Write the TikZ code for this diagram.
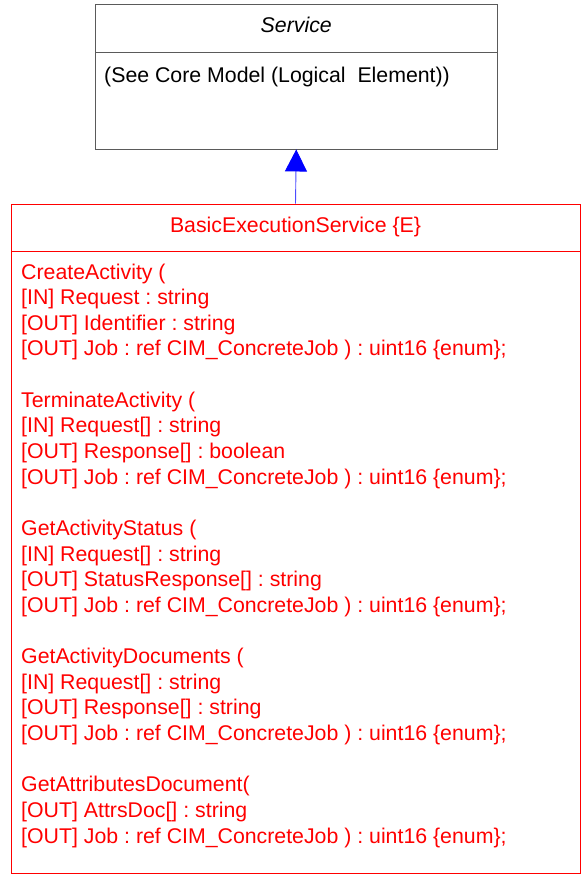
\documentclass[tikz,border=0pt]{standalone}
\usepackage{fontspec}
\setmainfont{Liberation Sans}
\usetikzlibrary{arrows.meta}
\definecolor{umlred}{RGB}{255,0,0}
\definecolor{umlgray}{RGB}{90,90,90}
\definecolor{umlblue}{RGB}{0,0,255}
\frenchspacing
\begin{document}
\begin{tikzpicture}[x=1pt,y=1pt,
  txt/.style={inner sep=0pt,font=\frenchspacing\fontsize{21.3}{25.64}\selectfont},
  optxt/.style={txt,text=umlred,anchor=base west},
  graybox/.style={draw=umlgray,line width=0.9pt,minimum width=401.5pt,minimum height=144.3pt,inner sep=0pt},
  redbox/.style={draw=umlred,line width=0.9pt,minimum width=569pt,minimum height=669pt,inner sep=0pt},
  inherit/.style={draw=umlblue!70,line width=0.9pt,-{Triangle[length=22pt,width=22pt,fill=umlblue,color=umlblue]}}
]
\useasboundingbox (0,0) rectangle (583,-875);
% Service class
\node[graybox] (svc) at (296.25,-76.85) {};
\draw[umlgray,line width=0.9pt] (95.5,-52.3) coordinate (svcdl) -- (497,-52.3) coordinate (svcdr);
\node[txt,anchor=base,font=\fontsize{21.3}{25.64}\selectfont\itshape] (svcname) at (296.25,-32.5) {Service};
\node[txt,anchor=base west] (svcattr) at (104,-82) {(See Core Model (Logical\ \ Element))};
% BasicExecutionService class
\node[redbox] (bes) at (295.5,-538.5) {};
\draw[umlred,line width=0.9pt] (11,-251) coordinate (besdl) -- (580,-251) coordinate (besdr);
\node[txt,text=umlred,anchor=base] (besname) at (295.5,-232) {BasicExecutionService \{E\}};
\foreach \i/\t in {
 0/{CreateActivity (},
 1/{[IN] Request : string},
 2/{[OUT] Identifier : string},
 3/{[OUT] Job : ref CIM\_ConcreteJob ) : uint16 \{enum\};},
 5/{TerminateActivity (},
 6/{[IN] Request[] : string},
 7/{[OUT] Response[] : boolean},
 8/{[OUT] Job : ref CIM\_ConcreteJob ) : uint16 \{enum\};},
 10/{GetActivityStatus (},
 11/{[IN] Request[] : string},
 12/{[OUT] StatusResponse[] : string},
 13/{[OUT] Job : ref CIM\_ConcreteJob ) : uint16 \{enum\};},
 15/{GetActivityDocuments (},
 16/{[IN] Request[] : string},
 17/{[OUT] Response[] : string},
 18/{[OUT] Job : ref CIM\_ConcreteJob ) : uint16 \{enum\};},
 20/{GetAttributesDocument(},
 21/{[OUT] AttrsDoc[] : string},
 22/{[OUT] Job : ref CIM\_ConcreteJob ) : uint16 \{enum\};}}
{
  \node[optxt] (op\i) at (21,{-279-25.64*\i}) {\t};
}
% generalization
\draw[inherit] (bes.north) -- (svc.south);
\end{tikzpicture}
\end{document}
